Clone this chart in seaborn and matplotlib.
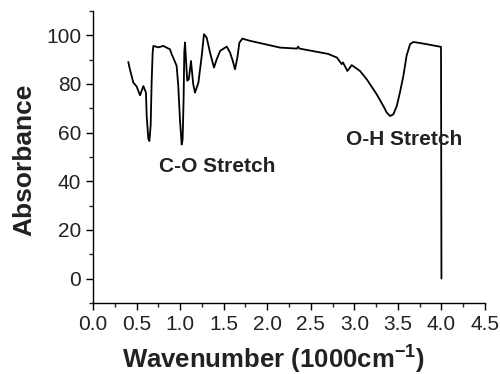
import matplotlib
matplotlib.use("Agg")
import matplotlib.pyplot as plt
import seaborn as sns
import pandas as pd
from matplotlib.ticker import MultipleLocator

wavenumber = [0.405, 0.42, 0.463, 0.50, 0.54, 0.578, 0.608, 0.616, 0.635, 0.647, 0.662,
              0.673, 0.685, 0.693, 0.75, 0.807, 0.85, 0.884, 0.903, 0.93, 0.96, 0.979,
              0.998, 1.018, 1.029, 1.04, 1.048, 1.056, 1.067, 1.082, 1.10, 1.125, 1.15,
              1.171, 1.21, 1.248, 1.274, 1.305, 1.343, 1.389, 1.42, 1.46, 1.535, 1.573,
              1.604, 1.63, 1.657, 1.68, 1.715, 1.80, 1.95, 2.147, 2.34, 2.355, 2.37,
              2.55, 2.70, 2.80, 2.855, 2.87, 2.92, 2.97, 3.065, 3.142, 3.257, 3.295,
              3.333, 3.372, 3.41, 3.448, 3.487, 3.525, 3.563, 3.60, 3.64, 3.677, 3.75,
              3.83, 3.995, 4.0]
absorbance = [89.0, 86.5, 80.5, 79.0, 75.3, 79.1, 76.4, 67.0, 57.5, 56.5, 63.0,
              80.5, 93.0, 95.6, 95.0, 95.6, 94.8, 94.2, 92.2, 90.0, 87.4, 79.1,
              65.4, 55.1, 57.2, 73.7, 92.9, 97.0, 90.1, 81.3, 81.9, 89.4, 80.0,
              76.4, 80.5, 91.5, 100.4, 99.0, 92.9, 86.7, 90.1, 93.6, 95.3, 92.9,
              89.5, 86.0, 90.7, 96.9, 98.6, 97.7, 96.5, 94.9, 94.5, 95.3, 94.5,
              93.3, 92.3, 90.8, 88.1, 88.8, 85.3, 87.7, 85.3, 81.9, 75.7, 73.3,
              70.9, 68.2, 66.8, 67.5, 70.9, 76.7, 83.3, 91.6, 96.3, 97.2, 96.8,
              96.3, 95.2, 0.0]

x_ticks = [0.0, 0.5, 1.0, 1.5, 2.0, 2.5, 3.0, 3.5, 4.0, 4.5]
y_ticks = [0, 20, 40, 60, 80, 100]
annotations = ["C-O Stretch", "O-H Stretch"]
annot_x = [1.42, 3.57]
annot_y = [46, 57.2]

sns.set_style("ticks")
plt.rcParams["font.family"] = ["Liberation Sans", "DejaVu Sans"]
plt.rcParams["mathtext.fontset"] = "custom"
plt.rcParams["mathtext.rm"] = "Liberation Sans"
plt.rcParams["mathtext.bf"] = "Liberation Sans:bold"

fig = plt.figure(figsize=(5.0, 3.74), dpi=100)
ax = fig.add_axes([0.186, 0.19, 0.784, 0.781])

df = pd.DataFrame({"x": wavenumber, "y": absorbance})
sns.lineplot(data=df, x="x", y="y", sort=False, estimator=None, color="black",
             linewidth=1.3, ax=ax)

ax.set_xlim(0, 4.5)
ax.set_ylim(-10, 110)
ax.set_xticks(x_ticks)
ax.set_xticklabels([f"{v:.1f}" for v in x_ticks])
ax.set_yticks(y_ticks)
ax.xaxis.set_minor_locator(MultipleLocator(0.25))
ax.yaxis.set_minor_locator(MultipleLocator(10))
ax.tick_params(axis="both", which="major", labelsize=15, length=5, width=1,
               colors="black", labelcolor="#222222", direction="out")
ax.tick_params(axis="both", which="minor", length=3, width=1, direction="out")
for s in ["top", "right"]:
    ax.spines[s].set_visible(False)
for s in ["left", "bottom"]:
    ax.spines[s].set_linewidth(1.0)
    ax.spines[s].set_color("black")

ax.set_xlabel(r"Wavenumber (1000cm$^{\mathbf{-1}}$)", fontsize=18.5,
              fontweight="bold", color="#222222")
ax.xaxis.set_label_coords(0.46, -0.19)
ax.xaxis.label.set_verticalalignment("center")
ax.set_ylabel("Absorbance", fontsize=19, fontweight="bold", color="#222222")
ax.yaxis.set_label_coords(-0.176, 0.49)
ax.yaxis.label.set_verticalalignment("center")

for t, xx, yy in zip(annotations, annot_x, annot_y):
    ax.text(xx, yy, t, ha="center", va="center", fontsize=15,
            fontweight="bold", color="#222222")

fig.savefig("out.png", dpi=100)
